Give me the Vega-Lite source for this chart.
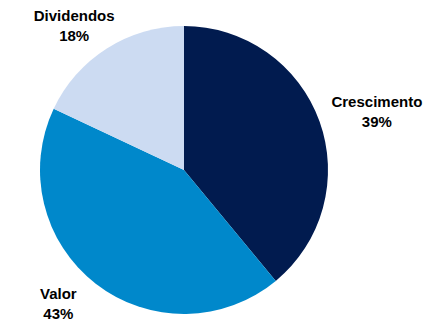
{
  "$schema": "https://vega.github.io/schema/vega-lite/v6.json",
  "autosize": "none",
  "padding": {"left": 0, "top": 19, "right": 62, "bottom": 0},
  "width": 368,
  "height": 302,
  "background": "white",
  "view": {"stroke": null},
  "data": {
    "values": [
      {"categoria": "Crescimento", "valor": 39, "ordem": 1, "rotulo": "Crescimento\n39%"},
      {"categoria": "Valor", "valor": 43, "ordem": 2, "rotulo": "Valor\n43%"},
      {"categoria": "Dividendos", "valor": 18, "ordem": 3, "rotulo": "Dividendos\n18%"}
    ]
  },
  "encoding": {
    "theta": {"field": "valor", "type": "quantitative", "stack": true},
    "order": {"field": "ordem", "type": "quantitative"}
  },
  "layer": [
    {
      "mark": {"type": "arc", "outerRadius": 144, "stroke": null},
      "encoding": {
        "color": {
          "field": "categoria",
          "type": "nominal",
          "scale": {
            "domain": ["Crescimento", "Valor", "Dividendos"],
            "range": ["#011B4F", "#0088CB", "#CCDBF2"]
          },
          "legend": null
        }
      }
    },
    {
      "mark": {
        "type": "text",
        "radius": 170,
        "dx": {"expr": "35*sin(PI*(datum.valor_start+datum.valor_end)/100)"},
        "dy": -10,
        "font": "Liberation Sans",
        "fontWeight": "bold",
        "fontSize": 15,
        "lineBreak": "\n",
        "lineHeight": 20,
        "align": "center",
        "baseline": "middle",
        "color": "#000000"
      },
      "encoding": {
        "text": {"field": "rotulo", "type": "nominal"}
      }
    }
  ]
}
